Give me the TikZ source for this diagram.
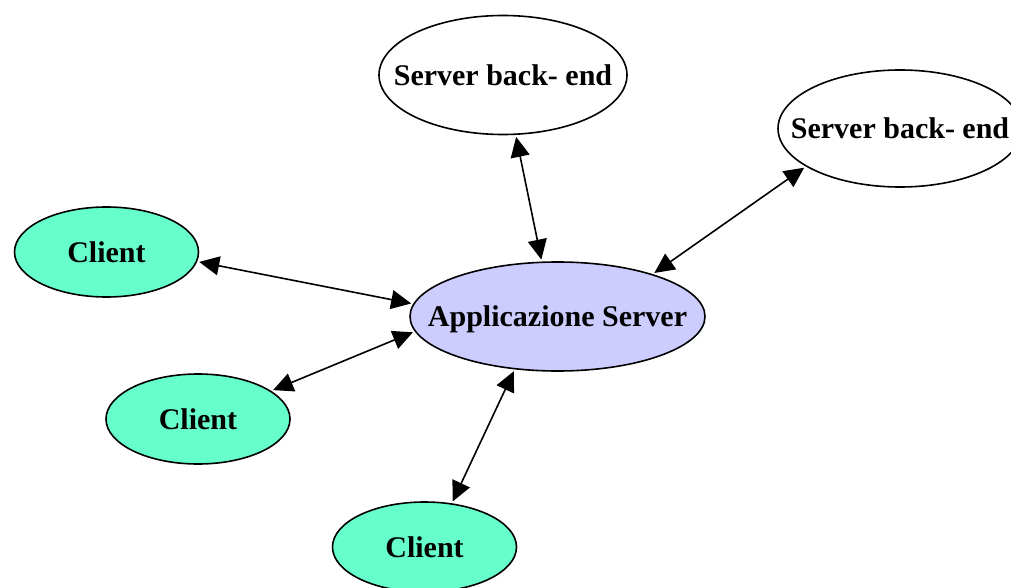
\documentclass[tikz,border=0pt]{standalone}
\usepackage{fontspec}
\setmainfont{Liberation Serif}
\usepackage{tikz}
\usetikzlibrary{positioning,arrows.meta,shapes.geometric}
\definecolor{asClient}{HTML}{66FFCC}
\definecolor{asServer}{HTML}{CCCCFF}
\definecolor{asWhite}{HTML}{FFFFFF}
\tikzset{
  as-node/.style={
    ellipse, draw=black, line width=1.6pt, inner sep=0pt
  },
  as-text/.style={font=\fontsize{30}{36}\selectfont\bfseries},
  as-link/.style={{Triangle[length=20pt,width=19pt]}-{Triangle[length=20pt,width=19pt]},
    line width=1.6pt, draw=black, shorten <=2pt, shorten >=2pt}
}
\begin{document}
\begin{tikzpicture}[
  x=1pt, y=-1pt,
  client/.style={as-node, fill=asClient, minimum width=184pt, minimum height=90pt},
  backend/.style={as-node, fill=asWhite, minimum width=248pt, minimum height=119pt},
  app/.style={as-node, fill=asServer, minimum width=295pt, minimum height=109pt}
]
\useasboundingbox[fill=white] (0,0) rectangle (1011,588);

\node[backend, label={[as-text]center:Server back- end}] (back1) at (503,75) {};
\node[backend, minimum width=244pt, minimum height=117pt,
  label={[as-text]center:Server back- end}] (back2) at (900,128.5) {};
\node[app, label={[as-text, yshift=-3pt]center:Applicazione Server}] (appsrv) at (557.5,316.5) {};
\node[client, label={[as-text]center:Client}] (cli1) at (106.5,252) {};
\node[client, label={[as-text]center:Client}] (cli2) at (198,419) {};
\node[client, label={[as-text]center:Client}] (cli3) at (424.5,547) {};

% Relations
\draw[as-link] (back1.282) -- (appsrv.106);
\draw[as-link] (back2.202) -- (appsrv.24);
\draw[as-link] (cli1.354) -- (appsrv.175);
\draw[as-link] (cli2.21) -- (appsrv.186);
\draw[as-link] (cli3.58) -- (appsrv.231);
\end{tikzpicture}
\end{document}
